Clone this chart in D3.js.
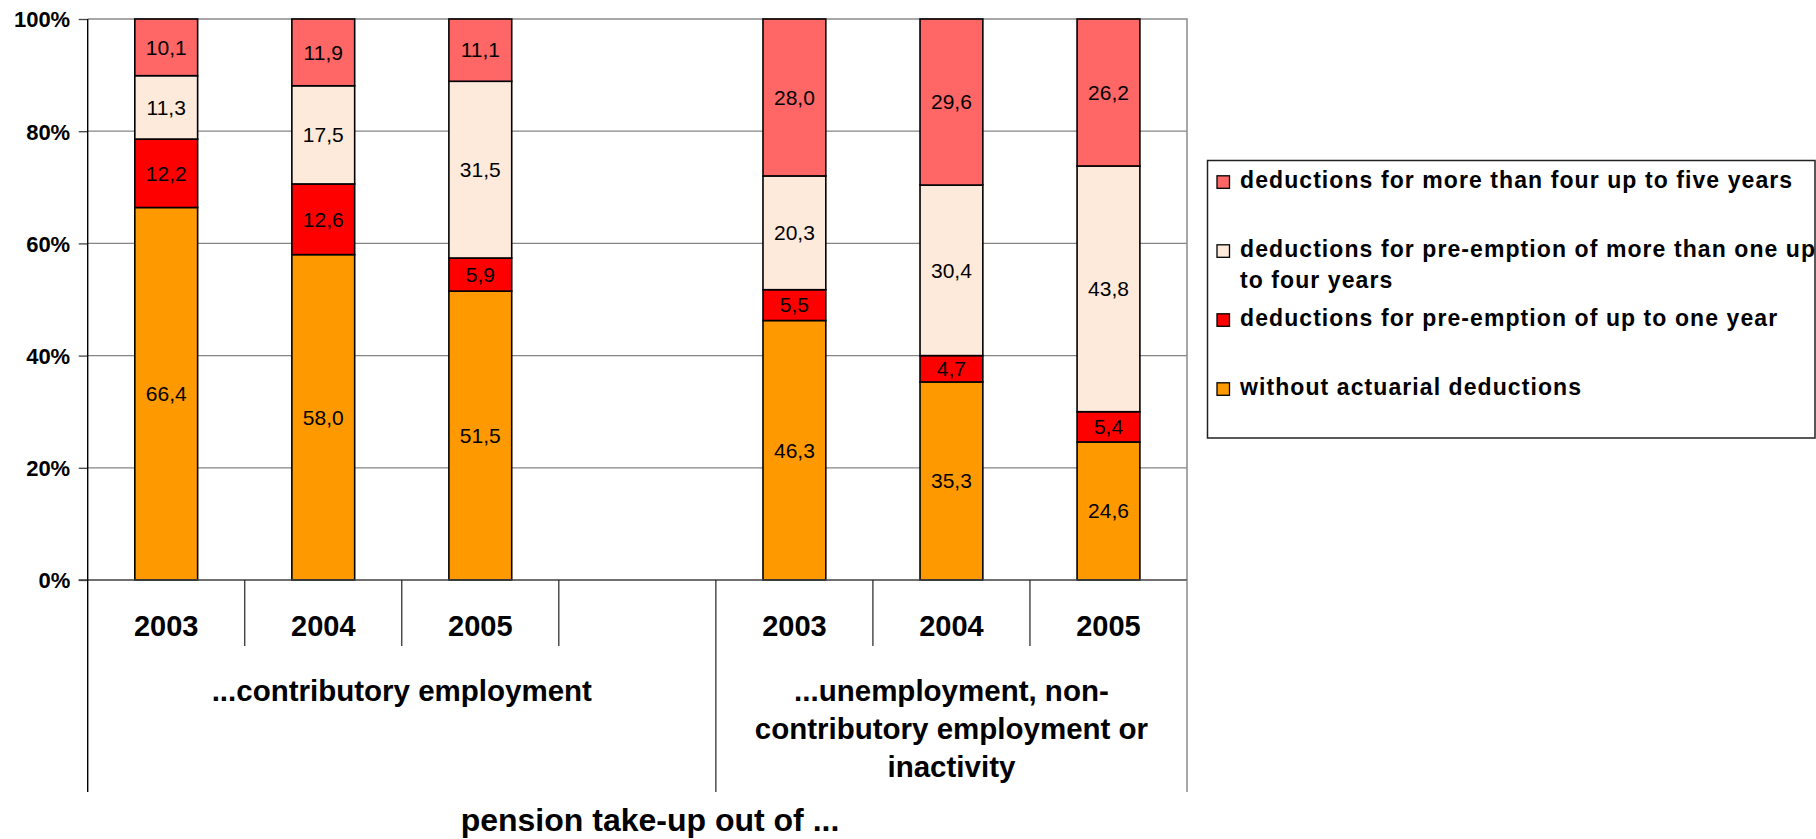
<!DOCTYPE html>
<html>
<head>
<meta charset="utf-8">
<script src="https://cdn.jsdelivr.net/npm/d3@7"></script>
<style>
  html, body { margin: 0; padding: 0; background: #fff; }
  svg { display: block; font-family: "Liberation Sans", Arial, Helvetica, sans-serif; }
</style>
</head>
<body>
<svg id="chart" width="1816" height="839"></svg>
<script>
// ---- data ----
const categories = ["2003", "2004", "2005", "", "2003", "2004", "2005"];
const groupSizes = [4, 3];
const groupLabels = [
  ["...contributory employment"],
  ["...unemployment, non-", "contributory employment or", "inactivity"]
];
const axisTitle = "pension take-up out of ...";

const seriesKeys = ["without", "upToOne", "oneToFour", "fourToFive"];
const seriesLegend = [
  ["without actuarial deductions"],
  ["deductions for pre-emption of up to one year"],
  ["deductions for pre-emption of more than one up", "to four years"],
  ["deductions for more than four up to five years"]
];
const withoutDeductions = [66.4, 58.0, 51.5, null, 46.3, 35.3, 24.6];
const upToOneYear       = [12.2, 12.6, 5.9,  null, 5.5,  4.7,  5.4];
const oneToFourYears    = [11.3, 17.5, 31.5, null, 20.3, 30.4, 43.8];
const fourToFiveYears   = [10.1, 11.9, 11.1, null, 28.0, 29.6, 26.2];
const yTickValues = [0, 20, 40, 60, 80, 100];

const seriesColors = ["#FF9900", "#FF0000", "#FDEADA", "#FF6666"];

// ---- layout ----
const plot = { left: 87.7, right: 1187, top: 19, bottom: 580 };
const svg = d3.select("#chart");

const rows = categories.map((c, i) => ({
  index: i,
  without: withoutDeductions[i],
  upToOne: upToOneYear[i],
  oneToFour: oneToFourYears[i],
  fourToFive: fourToFiveYears[i]
}));
const filled = rows.filter(r => r.without !== null);

const x = d3.scaleBand()
  .domain(d3.range(categories.length))
  .range([plot.left, plot.right])
  .padding(0);
const barW = x.bandwidth() * 0.4;
const barX = i => x(i) + (x.bandwidth() - barW) / 2;

const y = d3.scaleLinear().domain([0, 1]).range([plot.bottom, plot.top]);

const stacked = d3.stack()
  .keys(seriesKeys)
  .offset(d3.stackOffsetExpand)(filled);

// gridlines
svg.append("g")
  .selectAll("line")
  .data(yTickValues.filter(v => v > 0 && v < 100))
  .join("line")
  .attr("x1", plot.left).attr("x2", plot.right)
  .attr("y1", d => y(d / 100)).attr("y2", d => y(d / 100))
  .attr("stroke", "#858585").attr("stroke-width", 1.3);

// plot frame (top and right)
svg.append("path")
  .attr("d", `M${plot.left},${plot.top}H${plot.right}V${plot.bottom}`)
  .attr("fill", "none").attr("stroke", "#8a8a8a").attr("stroke-width", 1.5);

// stacked bars
const layers = svg.append("g").selectAll("g")
  .data(stacked)
  .join("g")
  .attr("fill", (d, i) => seriesColors[i]);

layers.selectAll("rect")
  .data(d => d)
  .join("rect")
  .attr("x", d => barX(d.data.index))
  .attr("width", barW)
  .attr("y", d => y(d[1]))
  .attr("height", d => y(d[0]) - y(d[1]))
  .attr("stroke", "#000").attr("stroke-width", 1.6);

// value labels
const fmt = v => d3.format(".1f")(v).replace(".", ",");
stacked.forEach(layer => {
  svg.append("g").selectAll("text")
    .data(layer)
    .join("text")
    .attr("x", d => barX(d.data.index) + barW / 2)
    .attr("y", d => (y(d[0]) + y(d[1])) / 2)
    .attr("dy", "0.35em")
    .attr("text-anchor", "middle")
    .attr("font-size", 21)
    .attr("fill", "#000")
    .text(d => fmt(d.data[layer.key]));
});

// y axis
const yAxis = d3.axisLeft(y)
  .tickValues(yTickValues.map(v => v / 100))
  .tickSize(9)
  .tickPadding(8.5)
  .tickFormat(d => Math.round(d * 100) + "%");
const yg = svg.append("g")
  .attr("transform", `translate(${plot.left},0)`)
  .call(yAxis);
yg.select(".domain").remove();
yg.selectAll(".tick line").attr("stroke", "#444").attr("stroke-width", 1.3);
yg.selectAll(".tick text")
  .attr("font-size", 22).attr("font-weight", "bold")
  .attr("font-family", "Liberation Sans, Arial, sans-serif")
  .attr("fill", "#000").attr("dy", "0.36em");

// bottom axis line
const groupEnds = d3.cumsum(groupSizes);
const axisLow = 646;   // end of the short category dividers
const groupLow = 792;  // end of the group dividers
svg.append("line")
  .attr("x1", plot.left - 9).attr("x2", plot.right)
  .attr("y1", plot.bottom).attr("y2", plot.bottom)
  .attr("stroke", "#404040").attr("stroke-width", 1.6);

// left axis line (runs down through the category area)
svg.append("line")
  .attr("x1", plot.left).attr("x2", plot.left)
  .attr("y1", plot.top).attr("y2", groupLow)
  .attr("stroke", "#000").attr("stroke-width", 1.4);

// category dividers
const boundaries = d3.range(1, categories.length + 1);
svg.append("g").selectAll("line")
  .data(boundaries)
  .join("line")
  .attr("x1", i => i === categories.length ? plot.right : x(i))
  .attr("x2", i => i === categories.length ? plot.right : x(i))
  .attr("y1", plot.bottom)
  .attr("y2", i => groupEnds.includes(i) ? groupLow : axisLow)
  .attr("stroke", i => i === categories.length ? "#8a8a8a" : "#222")
  .attr("stroke-width", i => i === categories.length ? 1.5 : 1.2);

// category labels
svg.append("g").selectAll("text")
  .data(categories.map((c, i) => ({ c, i })).filter(d => d.c))
  .join("text")
  .attr("x", d => x(d.i) + x.bandwidth() / 2)
  .attr("y", 635.5)
  .attr("text-anchor", "middle")
  .attr("font-size", 29).attr("font-weight", "bold")
  .text(d => d.c);

// group labels
let start = 0;
groupSizes.forEach((n, gi) => {
  const x0 = x(start);
  const x1 = start + n >= categories.length ? plot.right : x(start + n);
  const t = svg.append("text")
    .attr("x", (x0 + x1) / 2)
    .attr("y", 700.5)
    .attr("text-anchor", "middle")
    .attr("font-size", 29.5).attr("font-weight", "bold");
  groupLabels[gi].forEach((line, li) => {
    t.append("tspan")
      .attr("x", (x0 + x1) / 2)
      .attr("dy", li === 0 ? 0 : 38)
      .text(line);
  });
  start += n;
});

// axis title
svg.append("text")
  .attr("x", 650).attr("y", 831)
  .attr("text-anchor", "middle")
  .attr("font-size", 32).attr("font-weight", "bold")
  .text(axisTitle);

// legend
const legend = svg.append("g");
legend.append("rect")
  .attr("x", 1207.5).attr("y", 160.5)
  .attr("width", 607.5).attr("height", 277.5)
  .attr("fill", "#fff").attr("stroke", "#222").attr("stroke-width", 1.5);

const legendOrder = d3.range(seriesKeys.length).reverse();
legendOrder.forEach((si, k) => {
  const base = 188.3 + k * 69;
  legend.append("rect")
    .attr("x", 1217).attr("y", base - 12.5)
    .attr("width", 12.5).attr("height", 12.5)
    .attr("fill", seriesColors[si])
    .attr("stroke", "#000").attr("stroke-width", 1.3);
  const t = legend.append("text")
    .attr("x", 1240).attr("y", base)
    .attr("font-size", 23).attr("font-weight", "bold")
    .style("letter-spacing", "1.08px");
  seriesLegend[si].forEach((line, li) => {
    t.append("tspan").attr("x", 1240).attr("dy", li === 0 ? 0 : 31).text(line);
  });
});
</script>
</body>
</html>
